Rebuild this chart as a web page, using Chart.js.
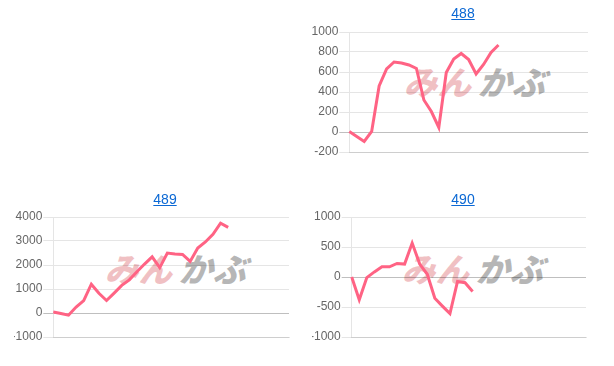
<!DOCTYPE html>
<html lang="ja">
<head>
    <meta charset="UTF-8">
    <title>488 489 490</title>
    <script src="https://cdn.jsdelivr.net/npm/chart.js"></script>
    <style>
        body { margin: 0; background: #fff; width: 614px; height: 366px; overflow: hidden; position: relative; font-family: Arial, "Liberation Sans", sans-serif; }
        .titulo { position: absolute; width: 302px; text-align: center; font-size: 14px; z-index: 3; }
        .titulo a { color: #0b68d4; text-decoration: underline; }
        .marca { position: absolute; z-index: 1; font-family: "Noto Sans CJK JP", sans-serif; font-weight: 900; font-size: 33px; line-height: 30px; white-space: nowrap; transform: skewX(-18deg); letter-spacing: 1px; }
        .marca .mi { color: rgba(226, 130, 135, 0.5); }
        .marca .ka { color: rgba(150, 150, 150, 0.7); margin-left: 6px; }
        canvas { position: absolute; z-index: 2; }
    </style>
</head>
<body>

    <div class="titulo" style="left:312px; top:5px;"><a href="#">488</a></div>
    <div class="titulo" style="left:14px; top:191px;"><a href="#">489</a></div>
    <div class="titulo" style="left:312px; top:191px;"><a href="#">490</a></div>

    <div class="marca" style="left:408px; top:66px;"><span class="mi">みん</span><span class="ka">かぶ</span></div>
    <div class="marca" style="left:109px; top:253px;"><span class="mi">みん</span><span class="ka">かぶ</span></div>
    <div class="marca" style="left:406px; top:253px;"><span class="mi">みん</span><span class="ka">かぶ</span></div>

    <canvas id="grafico488" width="278" height="148" style="left:312px; top:20px;"></canvas>
    <canvas id="grafico489" width="277" height="148" style="left:14px; top:205px;"></canvas>
    <canvas id="grafico490" width="276" height="148" style="left:312px; top:205px;"></canvas>

    <script>
        // dias (eixo x escondido)
        var dias488 = ['1','2','3','4','5','6','7','8','9','10','11','12','13','14','15','16','17','18','19','20','21','22','23','24','25','26','27','28','29','30','31','32','33'];
        var dias489 = ['1','2','3','4','5','6','7','8','9','10','11','12','13','14','15','16','17','18','19','20','21','22','23','24','25','26','27','28','29','30','31','32'];
        var dias490 = ['1','2','3','4','5','6','7','8','9','10','11','12','13','14','15','16','17','18','19','20','21','22','23','24','25','26','27','28','29','30','31','32'];

        // valores
        var valores488 = [5, -45, -95, 5, 460, 630, 700, 690, 670, 635, 320, 205, 45, 595, 730, 785, 725, 580, 675, 795, 870];
        var valores489 = [40, -20, -90, 250, 520, 1200, 820, 520, 830, 1150, 1380, 1720, 2040, 2340, 1890, 2500, 2460, 2440, 2150, 2710, 2960, 3280, 3740, 3570];
        var valores490 = [0, -380, -10, 85, 170, 170, 225, 215, 565, 215, 45, -355, -485, -610, -75, -95, -240];

        // min, max, passo
        var escala488 = [-200, 1000, 200];
        var escala489 = [-1000, 4000, 1000];
        var escala490 = [-1000, 1000, 500];

        function criarGrafico(id, labels, valores, escala, larguraY) {
            var ctx = document.getElementById(id);
            new Chart(ctx, {
                type: 'line',
                data: {
                    labels: labels,
                    datasets: [{
                        data: valores,
                        borderColor: 'rgb(255, 99, 132)',
                        backgroundColor: 'rgb(255, 99, 132)',
                        borderWidth: 3,
                        pointRadius: 0,
                        tension: 0,
                        fill: false
                    }]
                },
                options: {
                    responsive: false,
                    animation: false,
                    layout: { padding: { top: 12, bottom: 8, left: 0, right: 2 } },
                    plugins: { legend: { display: false }, tooltip: { enabled: false } },
                    scales: {
                        x: {
                            ticks: { display: false },
                            grid: { display: false },
                            border: { display: true, color: 'rgba(0,0,0,0.1)' }
                        },
                        y: {
                            min: escala[0],
                            max: escala[1],
                            afterFit: function (s) { s.width = larguraY; },
                            ticks: {
                                stepSize: escala[2],
                                padding: 1,
                                color: '#666',
                                font: { family: 'Arial, "Liberation Sans", sans-serif', size: 12 },
                                callback: function (v) { return String(v); }
                            },
                            grid: {
                                tickLength: 10,
                                color: function (c) {
                                    return (c.tick && c.tick.value === 0) ? 'rgba(0,0,0,0.25)' : 'rgba(0,0,0,0.1)';
                                }
                            },
                            border: { color: 'rgba(0,0,0,0.1)' }
                        }
                    }
                }
            });
        }

        criarGrafico('grafico488', dias488, valores488, escala488, 37.3);
        criarGrafico('grafico489', dias489, valores489, escala489, 39.3);
        criarGrafico('grafico490', dias490, valores490, escala490, 39.7);
    </script>
</body>
</html>
